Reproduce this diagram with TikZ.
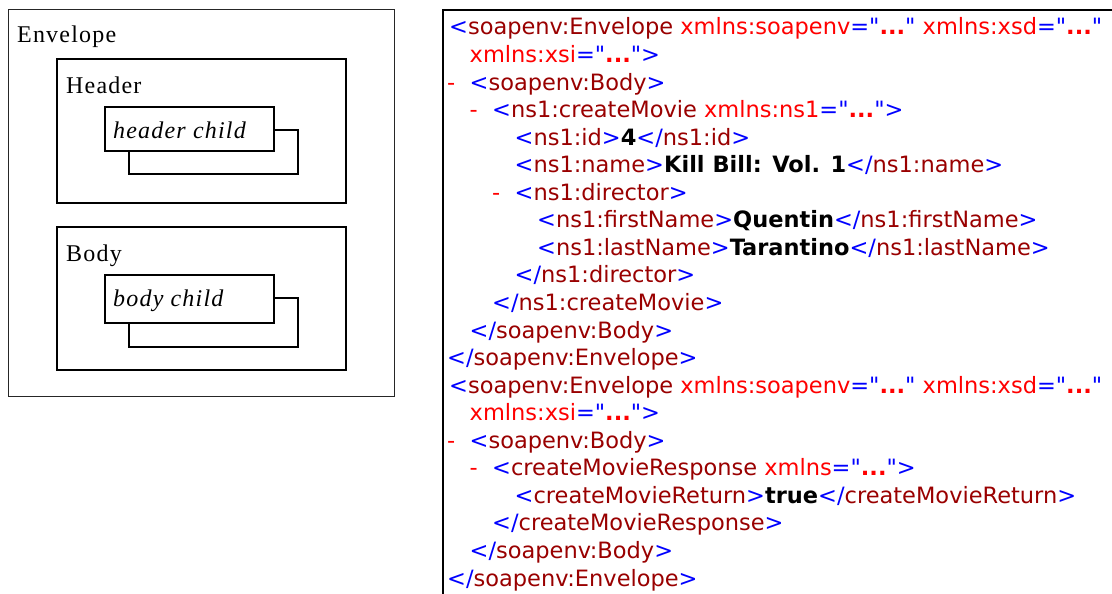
\documentclass[tikz,border=0pt]{standalone}
\usepackage{fontspec}
\setmainfont{Liberation Serif}
\newfontfamily\lblfont[LetterSpace=5]{Liberation Serif}
\newfontfamily\xmlfont{DejaVu Sans}
\usepackage{xcolor}
\definecolor{xmarkup}{HTML}{0000FF}
\definecolor{xtagname}{HTML}{990000}
\definecolor{xnsname}{HTML}{FF0000}
% XML view colouring
\newcommand\mk[1]{\textcolor{xmarkup}{#1}}
\newcommand\tg[1]{\textcolor{xtagname}{#1}}
\newcommand\xat[1]{\textcolor{xnsname}{#1}}
\newcommand\xv[1]{\textcolor{xnsname}{\bfseries #1}}
\newcommand\xtx[1]{\textbf{#1}}
\newcommand\xdots{\xv{...}}
\begin{document}
\begin{tikzpicture}[x=1pt,y=-1pt,
  env/.style={draw=black!85,line width=1pt},
  part/.style={draw=black,line width=1.8pt},
  lbl/.style={anchor=base west,inner sep=0pt,font=\lblfont\fontsize{24}{29}\selectfont},
  xline/.style={anchor=base west,inner sep=0pt,font=\xmlfont\fontsize{22.5}{27}\selectfont},
  fold/.style={anchor=base west,inner sep=0pt,text=xnsname,font=\xmlfont\fontsize{22.5}{27}\selectfont}]
\useasboundingbox (0,0) rectangle (1112,594);

% ---- SOAP message structure ----
\draw[env] (8,10) rectangle (394,396);
\node[lbl] (envlbl) at (17,43) {Envelope};

\draw[part] (57,59) rectangle (346,203);
\node[lbl] (hdrlbl) at (66,93) {Header};
\draw[part] (274,130) -| (298,174) -| (129,151);
\draw[part] (105,107) rectangle (274,151);
\node[lbl] (hdrchild) at (113,138) {\itshape header child};

\draw[part] (57,227) rectangle (346,370);
\node[lbl] (bodylbl) at (66,261) {Body};
\draw[part] (274,298) -| (298,347) -| (129,323);
\draw[part] (105,275) rectangle (274,323);
\node[lbl] (bodychild) at (113,306) {\itshape body child};

% ---- XML listing ----
\draw[line width=2.5pt] (443,594) -- (443,10) -- (1113,10);

\def\lx#1{447+#1*22.5}
\def\ly#1{35+(#1-1)*27.55}

% request
\node[xline] (l1) at ({\lx{0}+2},{\ly{1}}) {\mk{<}\tg{soapenv:Envelope}\ \xat{xmlns:soapenv}\mk{="}\xdots\mk{"}\ \xat{xmlns:xsd}\mk{="}\xdots\mk{"}};
\node[xline] (l2) at ({\lx{1}},{\ly{2}}) {\xat{xmlns:xsi}\mk{="}\xdots\mk{">}};
\node[fold] (f3) at ({\lx{0}},{\ly{3}}) {-};
\node[xline] (l3) at ({\lx{1}},{\ly{3}}) {\mk{<}\tg{soapenv:Body}\mk{>}};
\node[fold] (f4) at ({\lx{1}},{\ly{4}}) {-};
\node[xline] (l4) at ({\lx{2}},{\ly{4}}) {\mk{<}\tg{ns1:createMovie}\ \xat{xmlns:ns1}\mk{="}\xdots\mk{">}};
\node[xline] (l5) at ({\lx{3}},{\ly{5}}) {\mk{<}\tg{ns1:id}\mk{>}\xtx{4}\mk{</}\tg{ns1:id}\mk{>}};
\node[xline] (l6) at ({\lx{3}},{\ly{6}}) {\mk{<}\tg{ns1:name}\mk{>}\xtx{Kill Bill: Vol. 1}\mk{</}\tg{ns1:name}\mk{>}};
\node[fold] (f7) at ({\lx{2}},{\ly{7}}) {-};
\node[xline] (l7) at ({\lx{3}},{\ly{7}}) {\mk{<}\tg{ns1:director}\mk{>}};
\node[xline] (l8) at ({\lx{4}},{\ly{8}}) {\mk{<}\tg{ns1:firstName}\mk{>}\xtx{Quentin}\mk{</}\tg{ns1:firstName}\mk{>}};
\node[xline] (l9) at ({\lx{4}},{\ly{9}}) {\mk{<}\tg{ns1:lastName}\mk{>}\xtx{Tarantino}\mk{</}\tg{ns1:lastName}\mk{>}};
\node[xline] (l10) at ({\lx{3}},{\ly{10}}) {\mk{</}\tg{ns1:director}\mk{>}};
\node[xline] (l11) at ({\lx{2}},{\ly{11}}) {\mk{</}\tg{ns1:createMovie}\mk{>}};
\node[xline] (l12) at ({\lx{1}},{\ly{12}}) {\mk{</}\tg{soapenv:Body}\mk{>}};
\node[xline] (l13) at ({\lx{0}},{\ly{13}}) {\mk{</}\tg{soapenv:Envelope}\mk{>}};

% response
\node[xline] (l14) at ({\lx{0}+2},{\ly{14}}) {\mk{<}\tg{soapenv:Envelope}\ \xat{xmlns:soapenv}\mk{="}\xdots\mk{"}\ \xat{xmlns:xsd}\mk{="}\xdots\mk{"}};
\node[xline] (l15) at ({\lx{1}},{\ly{15}}) {\xat{xmlns:xsi}\mk{="}\xdots\mk{">}};
\node[fold] (f16) at ({\lx{0}},{\ly{16}}) {-};
\node[xline] (l16) at ({\lx{1}},{\ly{16}}) {\mk{<}\tg{soapenv:Body}\mk{>}};
\node[fold] (f17) at ({\lx{1}},{\ly{17}}) {-};
\node[xline] (l17) at ({\lx{2}},{\ly{17}}) {\mk{<}\tg{createMovieResponse}\ \xat{xmlns}\mk{="}\xdots\mk{">}};
\node[xline] (l18) at ({\lx{3}},{\ly{18}}) {\mk{<}\tg{createMovieReturn}\mk{>}\xtx{true}\mk{</}\tg{createMovieReturn}\mk{>}};
\node[xline] (l19) at ({\lx{2}},{\ly{19}}) {\mk{</}\tg{createMovieResponse}\mk{>}};
\node[xline] (l20) at ({\lx{1}},{\ly{20}}) {\mk{</}\tg{soapenv:Body}\mk{>}};
\node[xline] (l21) at ({\lx{0}},{\ly{21}}) {\mk{</}\tg{soapenv:Envelope}\mk{>}};
\end{tikzpicture}
\end{document}
